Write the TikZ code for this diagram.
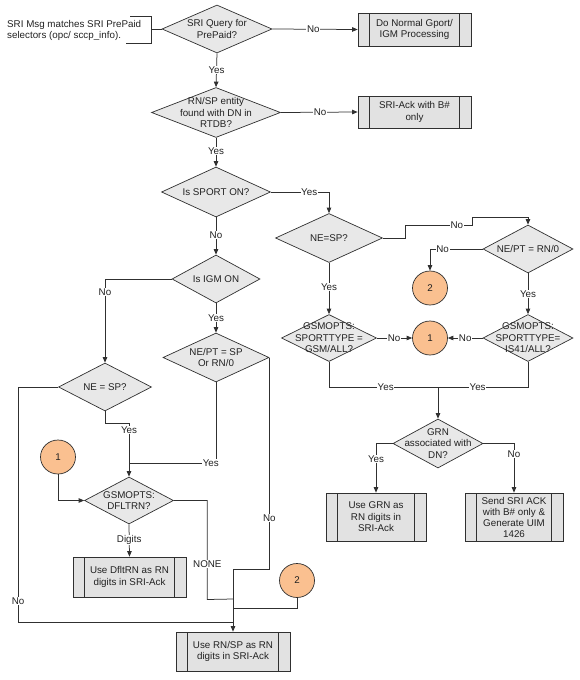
\documentclass[tikz,border=0pt]{standalone}
\usepackage{fontspec}
\setmainfont{Liberation Sans}
\usetikzlibrary{shapes.geometric,arrows.meta}
\definecolor{dgray}{HTML}{E8E8E8}
\definecolor{bgray}{HTML}{E2E2E2}
\definecolor{corange}{HTML}{FAC090}
\definecolor{ln}{HTML}{303030}
\definecolor{tx}{HTML}{222222}
\begin{document}
\begin{tikzpicture}[x=1pt,y=-1pt,
  font=\fontsize{9.8}{11.5}\selectfont, text=tx,
  dec/.style={shape=diamond, draw=ln, fill=dgray, line width=0.7pt, inner xsep=-70pt, inner ysep=-45pt, align=center},
  proc/.style={draw=ln, fill=bgray, line width=0.7pt, align=center, inner sep=0pt,
    minimum width=113pt, minimum height=33pt,
    path picture={\draw[ln, line width=0.7pt]
      ([xshift=11.5pt]path picture bounding box.north west) -- ([xshift=11.5pt]path picture bounding box.south west)
      ([xshift=-11.5pt]path picture bounding box.north east) -- ([xshift=-11.5pt]path picture bounding box.south east);}},
  conn/.style={ellipse, draw=ln, fill=corange, line width=0.7pt, minimum width=35pt, minimum height=34pt, inner sep=0pt},
  line/.style={draw=ln, line width=0.75pt},
  arr/.style={-{Triangle[length=5.5pt,width=4.5pt]}},
  lbl/.style={fill=white, inner sep=0.6pt}]
\useasboundingbox (0,0) rectangle (580,680);

% annotation
\node[anchor=west, align=left, inner sep=0pt] (note) at (7,30.5) {SRI Msg matches SRI PrePaid\\selectors (opc/ sccp\_info).};
\coordinate (bt0) at (130,16);
\coordinate (bt1) at (151,16);
\coordinate (bb1) at (151,43);
\coordinate (bb0) at (126,43);
\coordinate (bm) at (151,29);

% right / top part
\node[dec, minimum width=110pt, minimum height=48pt] (d1) at (217,29) {SRI Query for\\PrePaid?};
\node[proc] (b1) at (414.5,29.5) {Do Normal Gport/\\IGM Processing};
\node[dec, minimum width=129pt, minimum height=50pt] (d2) at (216,112.5) {RN/SP entity\\found with DN in\\RTDB?};
\node[proc, minimum height=32pt] (b2) at (414.5,112) {SRI-Ack with B\#\\only};
\node[dec, minimum width=109pt, minimum height=50pt] (d3) at (216,192) {Is SPORT ON?};
\node[dec, minimum width=107pt, minimum height=49pt] (d4) at (329,238) {NE=SP?};
\node[dec, minimum width=90pt, minimum height=48pt] (d5) at (528,249) {NE/PT = RN/0};
\node[conn] (c2a) at (430,288) {2};
\node[dec, minimum width=95pt, minimum height=47pt] (d7) at (329,338) {GSMOPTS:\\SPORTTYPE =\\GSM/ALL?};
\node[conn] (c1a) at (430,338) {1};
\node[dec, minimum width=90pt, minimum height=47pt] (d6) at (528,338) {GSMOPTS:\\SPORTTYPE=\\IS41/ALL?};
\coordinate (jn) at (438,387);
\node[dec, minimum width=90pt, minimum height=49pt] (d8) at (438,443.5) {GRN\\associated with\\DN?};
\node[proc, minimum width=100pt, minimum height=48pt] (b3) at (376,517) {Use GRN as\\RN digits in\\SRI-Ack};
\node[proc, minimum width=98pt, minimum height=48pt, font=\fontsize{9.8}{11}\selectfont] (b4) at (514,517) {Send SRI ACK\\with B\# only \&\\Generate UIM\\1426};

% left part
\node[dec, minimum width=88pt, minimum height=48pt] (d9) at (216,279) {Is IGM ON};
\node[dec, minimum width=106pt, minimum height=49pt] (d11) at (216,357.5) {NE/PT = SP\\Or RN/0};
\node[dec, minimum width=93pt, minimum height=48pt] (d10) at (105,387) {NE = SP?};
\node[conn] (c1b) at (58,457) {1};
\node[dec, minimum width=89pt, minimum height=47pt] (d12) at (129,500.5) {GSMOPTS:\\DFLTRN?};
\node[proc, minimum width=113pt, minimum height=40pt] (b5) at (129.5,577) {Use DfltRN as RN\\digits in SRI-Ack};
\node[conn] (c2b) at (297,580.5) {2};
\node[proc, minimum width=114pt, minimum height=39pt] (b6) at (233,651.5) {Use RN/SP as RN\\digits in SRI-Ack};

% connectors
\draw[line] (bt0) -- (bt1) -- (bb1) -- (bb0);
\draw[line] (bm) -- (d1.west);
\draw[line,arr] (d1.east) -- node[lbl,pos=0.48]{No} (b1.west);
\draw[line,arr] (d1.south) -- node[lbl,pos=0.49]{Yes} (d2.north);
\draw[line,arr] (d2.east) -- node[lbl,pos=0.51]{No} (b2.west);
\draw[line,arr] (d2.south) -- node[lbl,pos=0.45]{Yes} (d3.north);
\draw[line,arr] (d3.east) -| node[lbl,pos=0.33]{Yes} (d4.north);
\draw[line,arr] (d4.east) -- ++(23,0) -- ++(0,-13) -- node[lbl,pos=0.76]{No} ++(67,0) -- ++(0,-8) -| (d5.north);
\draw[line,arr] (d5.west) -| node[lbl,pos=0.38]{No} (c2a.north);
\draw[line,arr] (d5.south) -- node[lbl,pos=0.5]{Yes} (d6.north);
\draw[line,arr] (d4.south) -- node[lbl,pos=0.47]{Yes} (d7.north);
\draw[line,arr] (d7.east) -- node[lbl,pos=0.49]{No} (c1a.west);
\draw[line,arr] (d6.west) -- node[lbl,pos=0.5]{No} (c1a.east);
\draw[line] (d7.south) |- node[lbl,pos=0.76]{Yes} (jn);
\draw[line] (d6.south) |- node[lbl,pos=0.78]{Yes} (jn);
\draw[line,arr] (jn) -- (d8.north);
\draw[line,arr] (d8.west) -| node[lbl,pos=0.66]{Yes} (b3.north);
\draw[line,arr] (d8.east) -| node[lbl,pos=0.61]{No} (b4.north);

\draw[line,arr] (d3.south) -- node[lbl,pos=0.47]{No} (d9.north);
\draw[line,arr] (d9.west) -| node[lbl,pos=0.58]{No} (d10.north);
\draw[line,arr] (d9.south) -- node[lbl,pos=0.5]{Yes} (d11.north);
\draw[line,arr] (d10.south) -- ++(0,12) -| node[lbl,pos=0.565]{Yes} (d12.north);
\draw[line] (d11.south) |- node[lbl,pos=0.53]{Yes} (d12.north |- 0,463);
\draw[line] (d10.west) -- ++(-40,0) |- node[lbl,pos=0.455]{No} (b6.north |- 0,622);
\draw[line,arr] (c1b.south) |- (d12.west);
\draw[line,arr] (d12.south) -- node[lbl,pos=0.48]{Digits} (b5.north);
\draw[line] (d12.east) -- ++(33.5,0) -- node[lbl,pos=0.64]{NONE} ++(0,99) -- (b6.north |- 0,599);
\draw[line,arr] (d11.east) |- node[lbl,pos=0.38]{No} (b6.north |- 0,569) -- (b6.north);
\draw[line] (c2b.south) |- (b6.north |- 0,608);
\end{tikzpicture}
\end{document}
